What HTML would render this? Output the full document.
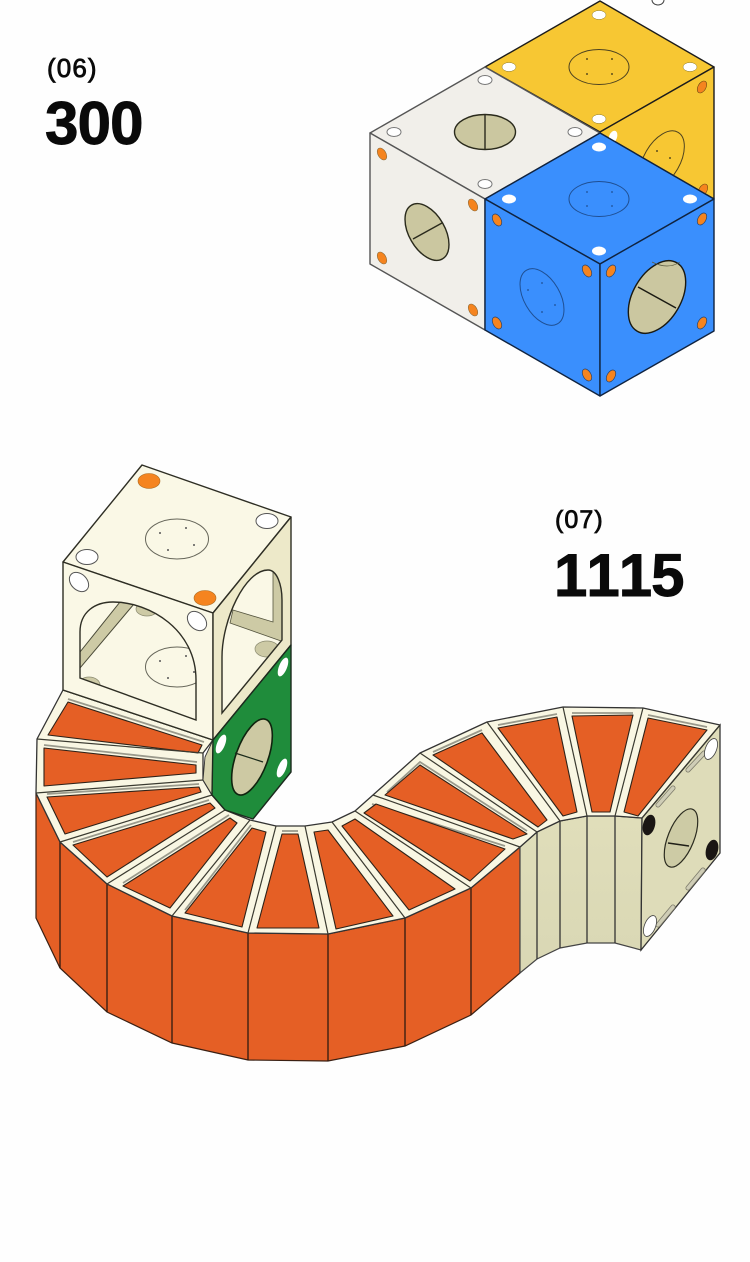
<!DOCTYPE html>
<html><head><meta charset="utf-8"><title>Diagram</title>
<style>
html,body{margin:0;padding:0;background:#fefefe;}
body{width:750px;height:1262px;overflow:hidden;position:relative;font-family:"Liberation Sans",Arial,sans-serif;color:#0a0a0a;font-kerning:none}
svg{position:absolute;left:0;top:0;filter:blur(.35px)}
.s{position:absolute;font-size:26px;line-height:30px;-webkit-text-stroke:.8px #0a0a0a;letter-spacing:1.1px}
.b{position:absolute;font-size:60px;line-height:60px;font-weight:bold;-webkit-text-stroke:.9px #0a0a0a}
</style></head><body>
<svg width="750" height="1262" viewBox="0 0 750 1262">
<defs>
<clipPath id="yc"><polygon points="600,132 714,67 714,199 600,133"/></clipPath>
<clipPath id="blc"><polygon points="600,264 714,199 714,331 600,396"/></clipPath>
<clipPath id="ar1"><path d="M80,678 L80,632 C80,612 95,602 113,602 C150,602 196,630 196,680 L196,720 Z"/></clipPath>
<clipPath id="ar2"><path d="M222,713 L222,657 C222,620 245,570 268,570 C277,570 282,585 282,600 L282,640 Z"/></clipPath>
<linearGradient id="cw" x1="0" y1="0" x2="0" y2="1"><stop offset="0" stop-color="#e0deba"/><stop offset="1" stop-color="#d9d7b4"/></linearGradient>
</defs>

<!-- top-right stray -->
<ellipse cx="658" cy="0" rx="6" ry="5" fill="#fff" stroke="#444" stroke-width="1"/>

<!-- yellow cube -->
<g stroke="#1c1c1c" stroke-width="1.4" stroke-linejoin="round">
<polygon points="600,1 714,67 600,132 485,67" fill="#f7c733"/>
<polygon points="600,132 714,67 714,199 600,133" fill="#f7c733"/>
</g>
<ellipse cx="599" cy="67" rx="30" ry="17.5" fill="none" stroke="#4d4220" stroke-width="1"/>
<g fill="#5d4d1d"><circle cx="587" cy="59" r="1"/><circle cx="612" cy="59" r="1"/><circle cx="587" cy="74" r="1"/><circle cx="612" cy="74" r="1"/>
<circle cx="657" cy="151" r="1"/><circle cx="670" cy="158" r="1"/></g>
<g clip-path="url(#yc)"><ellipse cx="662" cy="160" rx="18" ry="32" transform="rotate(30 662 160)" fill="none" stroke="#4d4220" stroke-width="1"/>
<ellipse cx="703" cy="190" rx="4" ry="6.5" transform="rotate(30 703 190)" fill="#f5841f" stroke="#6b4a12" stroke-width=".6"/></g>
<ellipse cx="702" cy="87" rx="4" ry="6.5" transform="rotate(30 702 87)" fill="#f5841f" stroke="#6b4a12" stroke-width=".6"/>
<ellipse cx="613" cy="137" rx="4" ry="6.5" transform="rotate(20 613 137)" fill="#fff"/>
<g fill="#fff" stroke="#8a7a30" stroke-width=".5">
<ellipse cx="599" cy="15" rx="7" ry="4.5"/><ellipse cx="509" cy="67" rx="7" ry="4.5"/><ellipse cx="690" cy="67" rx="7" ry="4.5"/><ellipse cx="599" cy="119" rx="7" ry="4.5"/></g>

<!-- white cube -->
<g stroke="#555" stroke-width="1.4" stroke-linejoin="round" fill="#f1efea">
<polygon points="370,133 485,67 600,133 485,199"/>
<polygon points="370,133 485,199 485,330 370,264"/>
</g>
<ellipse cx="485" cy="132" rx="30.5" ry="17.5" fill="#cbc7a0" stroke="#2a2a1c" stroke-width="1.4"/>
<line x1="485" y1="115" x2="485" y2="150" stroke="#2a2a1c" stroke-width="1.4"/>
<ellipse cx="427" cy="232" rx="18" ry="31" transform="rotate(-30 427 232)" fill="#cbc7a0" stroke="#2a2a1c" stroke-width="1.4"/>
<line x1="413" y1="239" x2="442" y2="223" stroke="#2a2a1c" stroke-width="1.4"/>
<g fill="#fff" stroke="#777" stroke-width="1">
<ellipse cx="485" cy="80" rx="7" ry="4.5"/><ellipse cx="394" cy="132" rx="7" ry="4.5"/><ellipse cx="575" cy="132" rx="7" ry="4.5"/><ellipse cx="485" cy="184" rx="7" ry="4.5"/></g>
<g fill="#f5841f" stroke="#8a6a3a" stroke-width=".6">
<ellipse cx="382" cy="154" rx="4" ry="6.5" transform="rotate(-30 382 154)"/>
<ellipse cx="473" cy="205" rx="4" ry="6.5" transform="rotate(-30 473 205)"/>
<ellipse cx="382" cy="258" rx="4" ry="6.5" transform="rotate(-30 382 258)"/>
<ellipse cx="473" cy="310" rx="4" ry="6.5" transform="rotate(-30 473 310)"/></g>

<!-- blue cube -->
<g stroke="#10233f" stroke-width="1.4" stroke-linejoin="round" fill="#3a8ffd">
<polygon points="600,133 714,199 600,264 485,199"/>
<polygon points="485,199 600,264 600,396 485,330"/>
<polygon points="600,264 714,199 714,331 600,396"/>
</g>
<ellipse cx="599" cy="199" rx="30" ry="17.5" fill="none" stroke="#1f4f92" stroke-width="1"/>
<g fill="#1f4f92"><circle cx="587" cy="192" r=".9"/><circle cx="612" cy="192" r=".9"/><circle cx="587" cy="206" r=".9"/><circle cx="612" cy="206" r=".9"/>
<circle cx="542" cy="283" r=".9"/><circle cx="528" cy="290" r=".9"/><circle cx="555" cy="305" r=".9"/><circle cx="542" cy="312" r=".9"/></g>
<ellipse cx="542" cy="297" rx="18" ry="31" transform="rotate(-30 542 297)" fill="none" stroke="#1f4f92" stroke-width="1"/>
<g clip-path="url(#blc)">
<ellipse cx="657" cy="297" rx="24" ry="39.5" transform="rotate(30 657 297)" fill="#cbc7a0" stroke="#1a1a12" stroke-width="1.4"/>
<path d="M652,262 Q668,270 680,262" fill="none" stroke="#5a5a40" stroke-width=".7"/>
<line x1="638" y1="287" x2="676" y2="308" stroke="#1a1a12" stroke-width="1.5"/>
</g>
<g fill="#fff"><ellipse cx="599" cy="147" rx="7" ry="4.5"/><ellipse cx="509" cy="199" rx="7" ry="4.5"/><ellipse cx="690" cy="199" rx="7" ry="4.5"/><ellipse cx="599" cy="251" rx="7" ry="4.5"/></g>
<g fill="#f5841f" stroke="#23406a" stroke-width=".7">
<ellipse cx="497" cy="220" rx="4" ry="6.5" transform="rotate(-30 497 220)"/>
<ellipse cx="587" cy="271" rx="4" ry="6.5" transform="rotate(-30 587 271)"/>
<ellipse cx="497" cy="323" rx="4" ry="6.5" transform="rotate(-30 497 323)"/>
<ellipse cx="587" cy="375" rx="4" ry="6.5" transform="rotate(-30 587 375)"/>
<ellipse cx="611" cy="271" rx="4" ry="6.5" transform="rotate(30 611 271)"/>
<ellipse cx="702" cy="219" rx="4" ry="6.5" transform="rotate(30 702 219)"/>
<ellipse cx="702" cy="323" rx="4" ry="6.5" transform="rotate(30 702 323)"/>
<ellipse cx="611" cy="376" rx="4" ry="6.5" transform="rotate(30 611 376)"/></g>

<!-- S-shaped walls -->
<polygon points="36,793 60,842 107,884 172,916 248,933 328,934 405,918 471,888 520,847 520,973 471,1015 405,1046 328,1061 248,1060 172,1043 107,1012 60,968 36,918" fill="#e55f25" stroke="#3a2013" stroke-width="1.2"/>
<g stroke="#2e1a10" stroke-width="1.3"><line x1="60" y1="842" x2="60" y2="968"/><line x1="107" y1="884" x2="107" y2="1012"/><line x1="172" y1="916" x2="172" y2="1043"/><line x1="248" y1="933" x2="248" y2="1060"/><line x1="328" y1="934" x2="328" y2="1061"/><line x1="405" y1="918" x2="405" y2="1046"/><line x1="471" y1="888" x2="471" y2="1015"/></g>
<polygon points="520,847 537,832 560,821 587,816 615,816 642,818 641,950 615,943 587,943 560,948 537,959 520,973" fill="url(#cw)" stroke="#444" stroke-width="1.2"/>
<g stroke="#333" stroke-width="1.3"><line x1="537" y1="832" x2="537" y2="959"/><line x1="560" y1="821" x2="560" y2="948"/><line x1="587" y1="816" x2="587" y2="943"/><line x1="615" y1="816" x2="615" y2="943"/></g>
<polygon points="642,818 720,725 720,853 641,950" fill="#dedcb9" stroke="#333" stroke-width="1.3"/>

<!-- ribbon top -->
<polygon points="63,690 37,739 36,793 60,842 107,884 172,916 248,933 328,934 405,918 471,888 520,847 537,832 560,821 587,816 615,816 642,818 720,725 643,708 563,707 487,722 420,753 373,795 355,811 332,822 305,826 276,826 250,820 225,810 212,795 203,780 203,753 213,740" fill="#f9f7e3" stroke="#333" stroke-width="1.3" stroke-linejoin="round"/>

<!-- grey highlights -->
<g fill="none" stroke="#9a9a8c" stroke-width="1.8">
<path d="M68,699 L204,742"/><path d="M44,745 L197,762"/><path d="M47,794 L199,784"/><path d="M73,842 L209,800"/><path d="M123,883 L229,815"/><path d="M185,910 L251,825"/>
<path d="M282,831 H298"/><path d="M372,804 L505,846"/><path d="M387,792 L420,762 L527,831"/><path d="M433,752 L482,730"/><path d="M498,725 L557,714"/><path d="M572,713 H633"/><path d="M648,715 L707,727"/>
</g>

<!-- orange cells -->
<g fill="#e55f25" stroke="#2e2218" stroke-width="1.1" stroke-linejoin="round">
<polygon points="68,702 202,745 198,753 48,735"/>
<polygon points="44,748 196,765 196,773 44,786"/>
<polygon points="47,797 199,787 201,792 65,834"/>
<polygon points="73,845 210,803 215,808 107,877"/>
<polygon points="123,886 230,818 237,823 170,908"/>
<polygon points="185,913 252,828 266,832 242,927"/>
<polygon points="257,928 282,834 298,834 319,928"/>
<polygon points="336,929 314,832 328,830 393,916"/>
<polygon points="409,910 342,826 355,819 455,889"/>
<polygon points="364,813 376,804 505,849 470,881"/>
<polygon points="385,795 420,765 527,834 513,839"/>
<polygon points="433,755 482,733 547,820 538,827"/>
<polygon points="498,728 557,717 577,812 563,816"/>
<polygon points="572,716 633,715 610,812 592,812"/>
<polygon points="648,718 707,730 638,816 624,812"/>
</g>

<!-- spokes -->
<g stroke="#3a3a30" stroke-width="1.2">
<line x1="63" y1="690" x2="213" y2="740"/><line x1="37" y1="739" x2="203" y2="753"/><line x1="36" y1="793" x2="203" y2="780"/><line x1="60" y1="842" x2="212" y2="795"/><line x1="107" y1="884" x2="225" y2="810"/><line x1="172" y1="916" x2="250" y2="820"/><line x1="248" y1="933" x2="276" y2="826"/><line x1="328" y1="934" x2="305" y2="826"/><line x1="405" y1="918" x2="332" y2="822"/><line x1="471" y1="888" x2="355" y2="811"/><line x1="520" y1="847" x2="373" y2="795"/><line x1="537" y1="832" x2="420" y2="753"/><line x1="560" y1="821" x2="487" y2="722"/><line x1="587" y1="816" x2="563" y2="707"/><line x1="615" y1="816" x2="643" y2="708"/><line x1="642" y1="818" x2="720" y2="725"/>
</g>

<!-- end face details -->
<g stroke-linecap="round" fill="none">
<g stroke="#7f7d6c" stroke-width="5"><line x1="688" y1="770" x2="704" y2="753"/><line x1="658" y1="805" x2="673" y2="788"/><line x1="688" y1="888" x2="703" y2="870"/><line x1="658" y1="925" x2="673" y2="907"/></g>
<g stroke="#cfcdb6" stroke-width="3.4"><line x1="688" y1="770" x2="704" y2="753"/><line x1="658" y1="805" x2="673" y2="788"/><line x1="688" y1="888" x2="703" y2="870"/><line x1="658" y1="925" x2="673" y2="907"/></g>
</g>
<ellipse cx="681" cy="838" rx="13" ry="31" transform="rotate(22 681 838)" fill="#cdcba5" stroke="#2c2c20" stroke-width="1.2"/>
<line x1="668" y1="843" x2="689" y2="846" stroke="#1e1e16" stroke-width="1.5"/>
<ellipse cx="649" cy="825" rx="6" ry="10.5" transform="rotate(15 649 825)" fill="#1a1614"/>
<ellipse cx="712" cy="850" rx="6" ry="10.5" transform="rotate(15 712 850)" fill="#1a1614"/>
<ellipse cx="711" cy="749" rx="5.5" ry="11" transform="rotate(22 711 749)" fill="#fff" stroke="#444" stroke-width=".8"/>
<ellipse cx="650" cy="926" rx="5.5" ry="11" transform="rotate(22 650 926)" fill="#fff" stroke="#444" stroke-width=".8"/>

<!-- cream cube -->
<polygon points="213,740 205,757 203,780 212,795" fill="#d8d5b0" stroke="#333" stroke-width=".9"/>
<polygon points="142,465 291,517 213,613 63,562" fill="#faf8e6" stroke="#2e2e24" stroke-width="1.4" stroke-linejoin="round"/>
<polygon points="63,562 213,613 213,740 63,690" fill="#faf8e6" stroke="#2e2e24" stroke-width="1.4" stroke-linejoin="round"/>
<polygon points="213,613 291,517 291,645 213,740" fill="#ede9c9" stroke="#2e2e24" stroke-width="1.4" stroke-linejoin="round"/>

<!-- front arch -->
<path d="M80,678 L80,632 C80,612 95,602 113,602 C150,602 196,630 196,680 L196,720 Z" fill="#faf8e6"/>
<g clip-path="url(#ar1)">
<polygon points="80,652 120,602 134,604 80,668" fill="#cdcaa5" stroke="#4a4a38" stroke-width="1"/>
<ellipse cx="147" cy="609" rx="11" ry="7" fill="#cdcaa5" stroke="#8a8a70" stroke-width=".7"/>
<ellipse cx="89" cy="685" rx="11" ry="8" fill="#cdcaa5" stroke="#8a8a70" stroke-width=".7"/>
<ellipse cx="177" cy="667" rx="31.5" ry="20" fill="none" stroke="#66665a" stroke-width="1"/>
<g fill="#555"><circle cx="160" cy="661" r="1"/><circle cx="186" cy="656" r="1"/><circle cx="168" cy="678" r="1"/><circle cx="194" cy="672" r="1"/></g>
</g>
<path d="M80,678 L80,632 C80,612 95,602 113,602 C150,602 196,630 196,680 L196,720 Z" fill="none" stroke="#2e2e24" stroke-width="1.4"/>

<!-- right arch -->
<path d="M222,713 L222,657 C222,620 245,570 268,570 C277,570 282,585 282,600 L282,640 Z" fill="#faf8e6"/>
<g clip-path="url(#ar2)">
<polygon points="233,610 273,622 273,570 284,570 284,642 230,623" fill="#cdcaa5" stroke="#55553f" stroke-width=".8"/>
<ellipse cx="267" cy="649" rx="12" ry="8" fill="#cdcaa5" stroke="#8a8a70" stroke-width=".7"/>
</g>
<path d="M222,713 L222,657 C222,620 245,570 268,570 C277,570 282,585 282,600 L282,640 Z" fill="none" stroke="#2e2e24" stroke-width="1.4"/>

<ellipse cx="177" cy="539" rx="31.5" ry="20" fill="none" stroke="#66665a" stroke-width="1"/>
<g fill="#555"><circle cx="160" cy="533" r="1"/><circle cx="186" cy="528" r="1"/><circle cx="168" cy="550" r="1"/><circle cx="194" cy="545" r="1"/></g>
<ellipse cx="149" cy="481" rx="11" ry="7.5" fill="#f5841f" stroke="#aa6a20" stroke-width=".6"/>
<ellipse cx="205" cy="598" rx="11" ry="7.5" fill="#f5841f" stroke="#aa6a20" stroke-width=".6"/>
<ellipse cx="267" cy="521" rx="11" ry="7.5" fill="#fff" stroke="#555" stroke-width="1"/>
<ellipse cx="87" cy="557" rx="11" ry="7.5" fill="#fff" stroke="#555" stroke-width="1"/>
<ellipse cx="79" cy="582" rx="8" ry="11" transform="rotate(-45 79 582)" fill="#fff" stroke="#555" stroke-width="1"/>
<ellipse cx="197" cy="621" rx="8" ry="11" transform="rotate(-45 197 621)" fill="#fff" stroke="#555" stroke-width="1"/>

<!-- green -->
<path d="M213,740 L291,645 L291,772 L253,819 L225,810 L212,795 Z" fill="#1f8c3b" stroke="#1c2a1e" stroke-width="1.4" stroke-linejoin="round"/>
<ellipse cx="252" cy="757" rx="16" ry="40" transform="rotate(20 252 757)" fill="#cdc9a3" stroke="#10240f" stroke-width="1.6"/>
<line x1="235" y1="753" x2="263" y2="762" stroke="#1a2a1a" stroke-width="1.2"/>
<ellipse cx="221" cy="744" rx="4" ry="10" transform="rotate(22 221 744)" fill="#fff"/>
<ellipse cx="283" cy="667" rx="4" ry="10" transform="rotate(22 283 667)" fill="#fff"/>
<ellipse cx="282" cy="768" rx="4" ry="10" transform="rotate(22 282 768)" fill="#fff"/>
</svg>

<div class="s" style="left:47px;top:53px">(06)</div>
<div class="b" style="left:45px;top:94px;letter-spacing:-.8px">300</div>
<div class="s" style="left:555px;top:505px;font-size:25px">(07)</div>
<div class="b" style="left:554px;top:546px;letter-spacing:-1px">1115</div>
</body></html>
